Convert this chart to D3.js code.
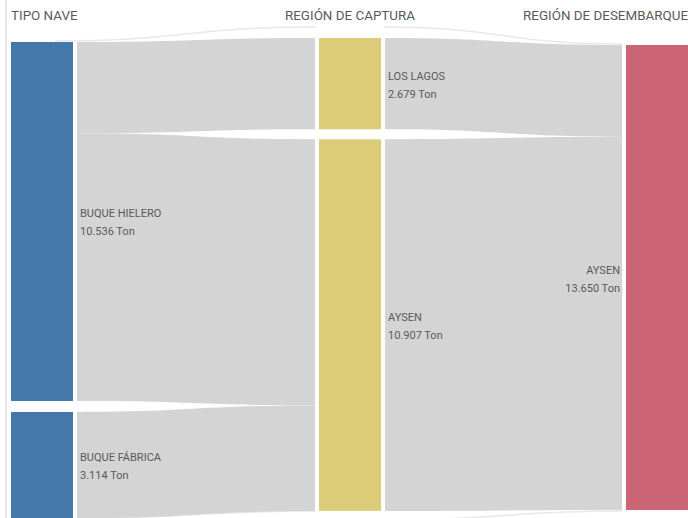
<!DOCTYPE html>
<html>
<head>
<meta charset="utf-8">
<script src="https://cdn.jsdelivr.net/npm/d3@7"></script>
<style>
  body { margin: 0; background: #fff; }
  text { font-family: "Roboto", "Noto Sans", sans-serif; fill: #595959; }
  .header { font-size: 13.4px; }
  .label { font-size: 11px; }
</style>
</head>
<body>
<div id="chart"></div>
<script>
var svgWidth = 688;
var svgHeight = 518;

// data (tons)
var columnTitles = ["TIPO NAVE", "REGIÓN DE CAPTURA", "REGIÓN DE DESEMBARQUE"];
var vesselNames = ["BUQUE HIELERO", "BUQUE FÁBRICA"];
var vesselValues = [10536, 3114];
var captureNames = ["LOS LAGOS", "AYSEN"];
var captureValues = [2679, 10907];
var landingNames = ["AYSEN"];
var landingValues = [13650];

var flowsVesselCapture = [
  { source: "BUQUE HIELERO", target: "LOS LAGOS", value: 2679 },
  { source: "BUQUE HIELERO", target: "AYSEN", value: 7857 },
  { source: "BUQUE FÁBRICA", target: "AYSEN", value: 3114 }
];
var flowsCaptureLanding = [
  { source: "LOS LAGOS", target: "AYSEN", value: 2679 },
  { source: "AYSEN", target: "AYSEN", value: 10907 }
];

var colColors = ["#4477aa", "#ddcc77", "#cc6677"];
var linkColor = "#d4d4d4";

var colX = [11, 319, 626];
var nodeWidth = 62;
var colTop = [42, 38, 45];
var nodePad = [11, 10, 10];

var yScale = d3.scaleLinear()
  .domain([0, 14000])
  .range([0, 477]);

var svg = d3.select("#chart")
  .append("svg")
  .attr("width", svgWidth)
  .attr("height", svgHeight);

// build node positions for one column
function layoutColumn(names, values, col) {
  var y = colTop[col];
  return names.map(function(name, i) {
    var h = yScale(values[i]);
    var node = { name: name, value: values[i], col: col, x0: colX[col], x1: colX[col] + nodeWidth, y0: y, y1: y + h, outY: y, inY: y };
    y += h + nodePad[col];
    return node;
  });
}

var columns = [
  layoutColumn(vesselNames, vesselValues, 0),
  layoutColumn(captureNames, captureValues, 1),
  layoutColumn(landingNames, landingValues, 2)
];

function findNode(col, name) {
  return columns[col].find(function(n) { return n.name === name; });
}

// link ends are spread over the full height of each node
function buildLinks(flows, sCol) {
  var inTotals = {};
  var outTotals = {};
  flows.forEach(function(f) {
    inTotals[f.target] = (inTotals[f.target] || 0) + f.value;
    outTotals[f.source] = (outTotals[f.source] || 0) + f.value;
  });
  return flows.map(function(f) {
    var s = findNode(sCol, f.source);
    var t = findNode(sCol + 1, f.target);
    var sh = (s.y1 - s.y0) * f.value / outTotals[f.source];
    var th = (t.y1 - t.y0) * f.value / inTotals[f.target];
    var link = {
      sx: s.x1 + 4, tx: t.x0 - 4,
      sy0: s.outY, sy1: s.outY + sh,
      ty0: t.inY, ty1: t.inY + th
    };
    s.outY += sh;
    t.inY += th;
    return link;
  });
}

function bandPath(d) {
  var mx = (d.sx + d.tx) / 2;
  return "M" + d.sx + "," + d.sy0 +
    "C" + mx + "," + d.sy0 + " " + mx + "," + d.ty0 + " " + d.tx + "," + d.ty0 +
    "L" + d.tx + "," + d.ty1 +
    "C" + mx + "," + d.ty1 + " " + mx + "," + d.sy1 + " " + d.sx + "," + d.sy1 + "Z";
}

function edgePath(sx, sy, tx, ty) {
  var mx = (sx + tx) / 2;
  return "M" + sx + "," + sy + "C" + mx + "," + sy + " " + mx + "," + ty + " " + tx + "," + ty;
}

var links = buildLinks(flowsVesselCapture, 0).concat(buildLinks(flowsCaptureLanding, 1));

// faint frame line at the left
svg.append("line")
  .attr("x1", 6).attr("x2", 6)
  .attr("y1", 0).attr("y2", svgHeight)
  .attr("stroke", "#dedede")
  .attr("stroke-width", 1.5);

// faint outer flow outlines
var outlineGroup = svg.append("g")
  .attr("fill", "none")
  .attr("stroke", "#e8e8e8")
  .attr("stroke-width", 1.5);
outlineGroup.append("path").attr("d", edgePath(55, 41, 316, 27));
outlineGroup.append("path").attr("d", edgePath(384, 27, 622, 44));
outlineGroup.append("path").attr("d", edgePath(77, 518, 316, 511));
outlineGroup.append("path").attr("d", edgePath(384, 520, 622, 511));

// links
svg.append("g")
  .selectAll("path")
  .data(links)
  .enter()
  .append("path")
  .attr("d", bandPath)
  .attr("fill", linkColor);

// nodes
var allNodes = columns[0].concat(columns[1], columns[2]);
svg.append("g")
  .selectAll("rect")
  .data(allNodes)
  .enter()
  .append("rect")
  .attr("x", d => d.x0)
  .attr("y", d => d.y0)
  .attr("width", nodeWidth)
  .attr("height", d => d.y1 - d.y0)
  .attr("fill", d => colColors[d.col]);

// node labels
var fmt = d3.formatLocale({ decimal: ",", thousands: ".", grouping: [3] }).format(",");
var labelGroup = svg.append("g").attr("class", "label");
allNodes.forEach(function(n) {
  var last = n.col === 2;
  var x = last ? n.x0 - 6 : n.x1 + 7;
  var cy = (n.y0 + n.y1) / 2;
  var t = labelGroup.append("text")
    .attr("x", x)
    .attr("text-anchor", last ? "end" : "start");
  t.append("tspan").attr("x", x).attr("y", cy - 4).text(n.name);
  t.append("tspan").attr("x", x).attr("y", cy + 14).text(fmt(n.value) + " Ton");
});

// column headers
svg.append("text").attr("class", "header")
  .attr("x", 11).attr("y", 20)
  .text(columnTitles[0]);
svg.append("text").attr("class", "header")
  .attr("x", colX[1] + nodeWidth / 2).attr("y", 20)
  .attr("text-anchor", "middle")
  .text(columnTitles[1]);
svg.append("text").attr("class", "header")
  .attr("x", 688).attr("y", 20)
  .attr("text-anchor", "end")
  .text(columnTitles[2]);
</script>
</body>
</html>
